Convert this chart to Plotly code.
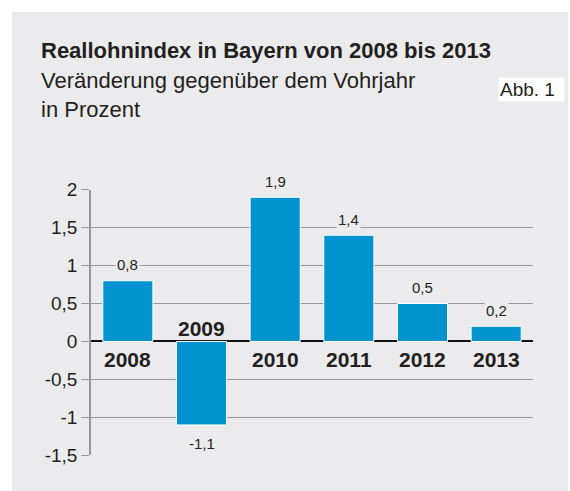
import plotly.graph_objects as go

# ---- data ----
years = ["2008", "2009", "2010", "2011", "2012", "2013"]
values = [0.8, -1.1, 1.9, 1.4, 0.5, 0.2]
tick_vals = [-1.5, -1, -0.5, 0, 0.5, 1, 1.5, 2]
tick_text = ["-1,5", "-1", "-0,5", "0", "0,5", "1", "1,5", "2"]

title = "Reallohnindex in Bayern von 2008 bis 2013"
subtitle1 = "Veränderung gegenüber dem Vohrjahr"
subtitle2 = "in Prozent"
badge = "Abb. 1"

# ---- style ----
W, H = 570, 491
PANEL = "#ebebed"
BAR = "#0093d0"
GRID = "#9a9a9a"
TXT = "#231f20"
FONT = "Liberation Sans, Arial, Helvetica, sans-serif"


def px_x(p):
    return p / W


def px_y(p):
    return 1 - p / H


pos = list(range(len(years)))

fig = go.Figure()
fig.add_trace(go.Bar(
    x=pos, y=values, width=0.68,
    marker=dict(color=BAR, line=dict(color="white", width=1)),
    hoverinfo="skip", showlegend=False,
))

annotations = []
for i, (yr, v) in enumerate(zip(years, values)):
    annotations.append(dict(
        x=i, y=v, xref="x", yref="y",
        text=f"{v:.1f}".replace(".", ","),
        showarrow=False, yanchor="middle",
        yshift=16 if v >= 0 else -19,
        font=dict(size=15, color=TXT, family=FONT),
        bgcolor=PANEL,
    ))
    annotations.append(dict(
        x=i, y=0, xref="x", yref="y",
        text=f"<b>{yr}</b>",
        showarrow=False, yanchor="middle",
        yshift=-18 if v >= 0 else 13,
        font=dict(size=21, color=TXT, family=FONT),
    ))

annotations += [
    dict(x=px_x(39), y=px_y(50.5), xref="paper", yref="paper",
         text=f"<b>{title}</b>", showarrow=False, xanchor="left", yanchor="middle",
         font=dict(size=22, color=TXT, family=FONT)),
    dict(x=px_x(39), y=px_y(80.5), xref="paper", yref="paper",
         text=subtitle1, showarrow=False, xanchor="left", yanchor="middle",
         font=dict(size=22, color=TXT, family=FONT)),
    dict(x=px_x(39), y=px_y(109.5), xref="paper", yref="paper",
         text=subtitle2, showarrow=False, xanchor="left", yanchor="middle",
         font=dict(size=22, color=TXT, family=FONT)),
    dict(x=px_x(498), y=px_y(89.5), xref="paper", yref="paper",
         text=badge, showarrow=False, xanchor="left", yanchor="middle",
         font=dict(size=19, color=TXT, family=FONT),
         bgcolor="white", width=63, height=21, align="left", borderpad=1),
]

fig.update_layout(
    width=W, height=H, autosize=False,
    margin=dict(l=0, r=0, t=0, b=0),
    paper_bgcolor="white", plot_bgcolor="rgba(0,0,0,0)",
    showlegend=False,
    font=dict(family=FONT, color=TXT),
    shapes=[dict(type="rect", xref="paper", yref="paper",
                 x0=px_x(12), x1=px_x(568), y0=px_y(491), y1=px_y(12),
                 fillcolor=PANEL, line=dict(width=0), layer="below")],
    annotations=annotations,
    xaxis=dict(type="linear", range=[-0.5, len(years) - 0.5],
               domain=[px_x(91), px_x(533)], showticklabels=False,
               showgrid=False, showline=False, zeroline=False, ticks="",
               automargin=False),
    yaxis=dict(type="linear", domain=[px_y(455.3), px_y(189.7)], range=[-1.5, 2],
               tickvals=tick_vals, ticktext=tick_text,
               tickfont=dict(size=19, color=TXT, family=FONT),
               ticks="outside", ticklen=8, tickcolor=GRID, tickwidth=1,
               showgrid=True, gridcolor=GRID, gridwidth=1,
               showline=True, linecolor=GRID, linewidth=1.5,
               zeroline=True, zerolinecolor="#111111", zerolinewidth=2,
               automargin=False),
)

fig.write_html(
    "out.html",
    config={"displayModeBar": False},
    post_script="document.body.style.margin='0';document.body.style.overflow='hidden';",
)
